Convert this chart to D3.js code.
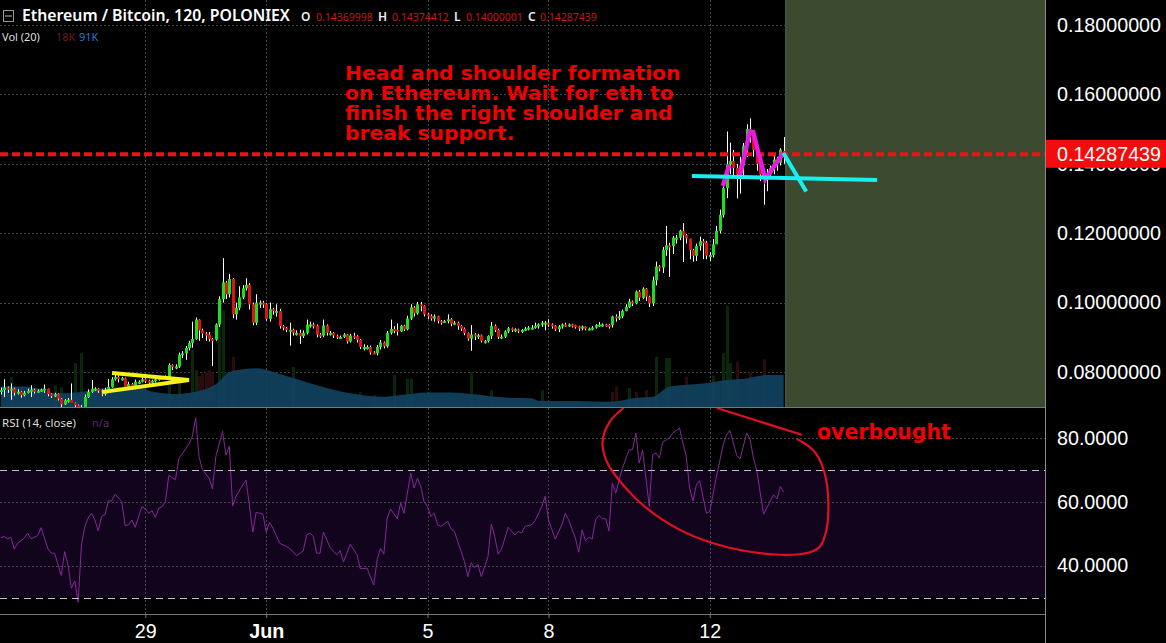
<!DOCTYPE html>
<html>
<head>
<meta charset="utf-8">
<title>Ethereum / Bitcoin, 120, POLONIEX</title>
<script src="https://d3js.org/d3.v7.min.js"></script>
<style>
  html, body { margin: 0; padding: 0; background: #000; overflow: hidden; }
  svg { display: block; }
</style>
</head>
<body>
<script>

// candles, every 2 hours, prices in units of 0.0001
var opens = [743,748,755,749,752,740,743,733,740,746,
  749,744,746,749,752,736,730,736,723,707,
  718,720,711,704,699,699,728,743,752,752,
  746,736,749,757,779,786,782,782,757,765,
  755,772,772,779,775,772,775,779,783,784,
  786,820,814,816,850,854,869,884,895,951,
  920,911,908,895,893,937,1010,1058,1024,1068,
  966,985,1015,1041,1051,995,942,1000,1000,995,
  953,981,976,976,932,927,922,922,913,913,
  903,913,937,937,934,908,905,934,913,913,
  905,901,901,908,888,905,903,893,872,872,
  872,856,854,872,885,874,913,924,922,917,
  933,923,954,986,969,995,990,966,962,954,
  960,947,944,947,952,939,942,933,925,912,
  896,908,904,906,889,889,904,933,921,901,
  902,917,926,921,923,917,921,925,928,928,
  933,937,942,942,937,933,923,931,937,936,
  937,935,931,925,931,925,925,928,935,937,
  937,936,935,960,957,960,976,988,1003,998,
  1032,1014,1040,1017,998,1064,1104,1101,1152,1165,
  1163,1187,1187,1207,1194,1185,1151,1135,1163,1177,
  1173,1135,1137,1168,1207,1253,1330,1398,1408,1388,
  1369,1395,1451,1500,1490,1440,1400,1369,1355,1369,
  1388,1412,1403,1437];

var closes = [748,755,749,752,740,743,733,740,746,749,
  744,746,749,752,736,730,736,723,707,718,
  720,711,704,699,699,728,743,752,752,746,
  736,749,757,779,786,782,782,757,765,755,
  772,772,779,775,772,775,779,783,784,786,
  820,814,816,850,854,869,884,895,951,920,
  911,908,895,893,937,1010,1058,1024,1068,966,
  985,1015,1041,1051,995,942,1000,1000,995,953,
  981,976,976,932,927,922,922,913,913,903,
  913,937,937,934,908,905,934,913,913,905,
  901,901,908,888,905,903,893,872,872,872,
  856,854,872,885,874,913,924,922,917,933,
  923,954,986,969,995,990,966,962,954,960,
  947,944,947,952,939,942,933,925,912,896,
  908,904,906,889,889,904,933,921,901,902,
  917,926,921,923,917,921,925,928,928,933,
  937,942,942,937,933,923,931,937,936,937,
  935,931,925,931,925,925,928,935,937,937,
  936,935,960,957,960,976,988,1003,998,1032,
  1014,1040,1017,998,1064,1104,1101,1152,1165,1163,
  1187,1187,1207,1194,1185,1151,1135,1163,1177,1173,
  1135,1137,1168,1207,1253,1330,1398,1408,1388,1369,
  1395,1451,1500,1490,1440,1400,1369,1355,1369,1388,
  1412,1403,1441,1429];

var highs = [755,779,758,767,755,750,745,745,752,762,
  752,750,752,764,752,738,740,738,725,722,
  725,767,712,706,705,735,750,777,756,754,
  750,755,780,785,800,790,786,784,772,768,
  778,776,785,782,778,778,782,786,788,790,
  825,822,822,856,860,875,890,945,957,952,
  925,915,915,898,940,1018,1128,1062,1083,1070,
  1000,1047,1050,1070,1056,1000,1024,1006,1005,998,
  1000,985,995,982,936,930,942,925,920,922,
  920,951,945,942,937,912,951,937,918,915,
  908,905,912,910,910,913,906,895,880,877,
  876,860,878,892,888,918,951,932,940,936,
  936,962,995,990,1002,1002,992,970,966,966,
  962,950,950,966,955,947,945,935,928,914,
  935,912,910,908,892,906,944,937,925,908,
  920,930,928,926,925,924,930,932,935,942,
  940,947,947,952,940,935,935,940,942,940,
  939,936,933,934,932,928,932,938,944,940,
  939,938,962,966,976,980,995,1011,1006,1035,
  1036,1044,1042,1020,1075,1118,1108,1160,1221,1172,
  1192,1195,1210,1229,1198,1160,1155,1170,1190,1183,
  1178,1145,1183,1221,1268,1335,1493,1461,1440,1400,
  1420,1460,1514,1531,1490,1445,1400,1386,1385,1395,
  1425,1420,1445,1477];

var lows = [735,728,740,720,732,735,726,730,738,728,
  738,740,743,740,730,725,728,718,696,705,
  712,718,698,692,690,695,725,740,745,740,
  730,732,745,755,775,770,775,750,752,748,
  750,765,770,768,765,768,770,775,778,780,
  782,806,808,812,840,835,862,870,893,890,
  898,890,888,817,890,930,1000,1010,1015,955,
  951,978,1010,1035,980,935,935,985,985,948,
  945,965,960,925,920,915,876,905,905,881,
  898,908,928,925,900,898,900,905,905,898,
  895,895,898,882,885,895,885,866,862,865,
  850,852,848,865,868,870,908,912,905,915,
  918,920,950,960,965,975,960,952,948,945,
  940,936,942,940,932,935,922,918,906,890,
  861,892,895,885,882,885,895,915,895,895,
  898,912,915,915,912,912,918,920,922,925,
  925,930,920,930,925,918,915,925,930,930,
  928,925,918,920,920,920,920,925,930,930,
  930,925,928,945,950,955,975,985,990,995,
  1005,1010,1005,987,990,1050,1090,1085,1135,1074,
  1140,1170,1180,1117,1170,1125,1118,1120,1150,1125,
  1125,1120,1130,1195,1200,1245,1301,1370,1360,1300,
  1314,1360,1420,1461,1420,1380,1350,1282,1321,1355,
  1370,1380,1395,1400];

// volume bars that can be told apart in the picture, in thousands
var volBars = [3,16,18,22,24,50,53,57,58,59,60,61,62,63,65,66,69,87,107,111,117,
  121,122,140,146,161,182,183,187,189,192,195,198,199,204,212,215,216,217,219,223,227];
var volValues = [84,62,56,125,153,62,68,162,105,88,95,100,105,98,247,275,142,114,43,34,91,
  80,80,99,48,48,43,58,54,44,48,143,139,139,86,89,153,287,125,129,100,136];
var volUp = [1,1,1,1,1,1,1,1,1,0,0,0,0,0,1,1,0,1,0,0,1,
  1,1,1,1,1,0,0,1,0,0,1,1,1,0,1,1,1,1,0,0,0];

// volume moving average, read at its turning points, in thousands
var volMaBars = [0,6,10,17,25,30,40,45,52,60,65,68,76,84,94,104,114,119,127,134,140,150,158,160,172,181,190,194,199,209,216,222,228,233];
var volMaValues = [58,58,55,39,44,53,58,44,37,48,72,100,110,91,62,39,29,34,41,41,37,27,25,18,17,15,27,29,58,67,77,81,91,91];

// RSI line vertices
var rsiBars = [0,1,2,3,4,5,7,8,9,11,12,13,14,15,16,18,19,20,21,22,23,24,25,26,27,28,29,30,31,32,33,34,36,37,38,39,40,
  42,43,44,45,46,47,48,49,50,52,53,54,56,57,58,59,60,62,63,64,66,67,68,69,70,72,73,75,76,78,79,80,81,83,85,86,88,
  90,91,92,93,94,95,96,98,100,101,102,104,106,107,109,111,112,113,114,115,116,118,119,120,122,123,124,
  125,126,127,128,129,130,131,133,134,135,137,138,139,140,141,142,143,145,146,147,148,149,151,153,154,155,156,158,159,
  161,162,163,165,167,168,169,171,172,173,174,175,176,177,178,179,180,181,182,183,185,187,188,189,190,191,193,
  194,195,196,197,199,200,202,203,204,205,206,207,208,210,211,213,215,216,217,219,220,222,223,224,225,227,230,231,232,233];
var rsiValues = [48.8,49.1,48.4,48.9,45.2,47.0,48.6,50.2,48.4,49.4,51.9,48.6,45.4,43.9,43.9,36.9,44.4,40.2,32.9,35.2,28.5,46.5,52.3,54.9,56.4,54.3,50.9,55.4,55.9,60.3,60.3,62.4,60.1,52.5,52.8,54.3,52.0,
  58.5,57.8,56.4,57.2,55.1,58.0,58.5,60.1,68.3,66.9,73.7,75.0,78.1,80.5,86.3,74.2,70.1,67.4,64.1,74.2,82.1,74.6,77.4,58.7,61.7,65.3,66.8,50.5,56.7,56.1,50.5,53.6,51.7,47.0,46.0,45.4,43.1,
  44.6,49.6,50.2,49.1,43.9,43.9,50.5,45.7,43.4,44.7,41.1,46.7,43.4,39.0,39.2,33.9,41.8,45.4,43.6,54.9,57.7,54.7,59.6,56.4,69.0,64.3,67.4,
  64.8,59.9,58.5,55.4,56.4,52.8,52.3,53.8,51.5,50.7,44.4,41.3,36.5,40.9,39.4,40.4,36.5,42.8,53.0,49.1,43.6,45.1,52.0,49.6,50.7,50.2,52.3,52.8,54.1,
  58.5,61.7,54.3,48.3,52.8,56.4,54.3,48.6,44.2,51.2,47.8,48.9,48.3,54.3,55.7,54.7,54.7,50.9,65.8,62.7,70.6,76.3,76.3,81.6,72.1,76.3,58.5,
  74.8,75.3,73.7,78.7,80.0,81.6,83.1,78.4,74.2,64.3,60.3,65.3,66.6,56.4,57.0,68.0,77.9,81.0,82.4,74.6,73.4,81.6,79.5,73.7,69.7,56.1,62.2,60.9,64.8,63.0];

// axes
var priceTicks = [0.18, 0.16, 0.14, 0.12, 0.10, 0.08];
var rsiTicks = [80, 60, 40];
var rsiLevels = [70, 30];
var dateBars = [43, 79, 127, 163, 211];
var dateLabels = ["29", "Jun", "5", "8", "12"];
var lastPrice = 0.14287439;

// hand drawn marks on the chart, bar number and price (or RSI value)
var yellowBars = [33.1, 56, 30.1];
var yellowPrices = [0.0797, 0.0777, 0.0742];
var magentaLeftBars = [214.9, 216.8];
var magentaLeftPrices = [0.1336, 0.1397];
var magentaBars = [220, 222.9, 223.9, 227.5, 232.9];
var magentaPrices = [0.1368, 0.1492, 0.1492, 0.1356, 0.1431];
var necklineBars = [205.7, 260.8];
var necklinePrices = [0.1365, 0.1353];
var breakBars = [232.9, 239.7];
var breakPrices = [0.1431, 0.1320];
var circleBars = [185.3,181.3,179.1,180.3,184.3,192.2,202.1,211.1,220,231.9,240.8,243.8,245.6,246.3,245.3,242.8,239.8,236.9];
var circleValues = [89.4,85.2,79,72.7,66.4,58,51.2,47.3,44.9,43.4,44.2,46,50.7,59.1,68.5,74.8,77.9,79.7];
var swooshBars = [213.1, 238.4];
var swooshValues = [89.4, 81];

var noteLines = ["Head and shoulder formation", "on Ethereum. Wait for eth to", "finish the right shoulder and", "break support."];

var plotRight = 1045, pricePaneBottom = 407, rsiPaneBottom = 614;
var futureBar = 233.6;

var svg = d3.select("body").append("svg").attr("width", 1166).attr("height", 643);

// same scales for both panes
var x = d3.scaleLinear().domain([0, 233]).range([0.8, 783.7]);
var yPrice = d3.scaleLinear().domain([0.18, 0.08]).range([25, 372]);
var yRsi = d3.scaleLinear().domain([80, 30]).range([438, 597.5]);
var yVol = d3.scaleLinear().domain([0, 100]).range([pricePaneBottom, pricePaneBottom - 35.2]);

svg.append("defs").append("clipPath").attr("id", "pricePane")
  .append("rect").attr("width", plotRight).attr("height", pricePaneBottom);
svg.select("defs").append("clipPath").attr("id", "rsiPane")
  .append("rect").attr("y", pricePaneBottom).attr("width", plotRight).attr("height", rsiPaneBottom - pricePaneBottom);

// green box over the empty right side of the price pane
svg.append("rect")
  .attr("x", x(futureBar)).attr("y", 0)
  .attr("width", plotRight - x(futureBar)).attr("height", pricePaneBottom)
  .attr("fill", "#3c4b30");
svg.append("line")
  .attr("x1", x(futureBar)).attr("x2", x(futureBar)).attr("y1", 0).attr("y2", pricePaneBottom)
  .attr("stroke", "#55694a").attr("stroke-width", 1);

// RSI 30-70 band
svg.append("rect")
  .attr("x", 0).attr("y", yRsi(70))
  .attr("width", plotRight).attr("height", yRsi(30) - yRsi(70))
  .attr("fill", "#12041d");

// grid
var gridColor = "#454545";
svg.selectAll(".hgrid").data(priceTicks).enter().append("line")
  .attr("x1", 0).attr("x2", plotRight)
  .attr("y1", function (d) { return Math.round(yPrice(d)) + 0.5; })
  .attr("y2", function (d) { return Math.round(yPrice(d)) + 0.5; })
  .attr("stroke", function (d) { return gridColor; })
  .attr("stroke-dasharray", "2,2");
svg.selectAll(".rgrid").data(rsiTicks).enter().append("line")
  .attr("x1", 0).attr("x2", plotRight)
  .attr("y1", function (d) { return Math.round(yRsi(d)) + 0.5; })
  .attr("y2", function (d) { return Math.round(yRsi(d)) + 0.5; })
  .attr("stroke", gridColor)
  .attr("stroke-dasharray", "2,2");
svg.selectAll(".vgrid").data(dateBars).enter().append("line")
  .attr("x1", function (d) { return Math.round(x(d)) + 0.5; })
  .attr("x2", function (d) { return Math.round(x(d)) + 0.5; })
  .attr("y1", 0).attr("y2", rsiPaneBottom)
  .attr("stroke", gridColor)
  .attr("stroke-dasharray", "2,2");

// volume bars and the moving average on top
var volG = svg.append("g").attr("clip-path", "url(#pricePane)");
volG.selectAll("rect").data(volBars).enter().append("rect")
  .attr("x", function (d) { return Math.round(x(d)) - 1; })
  .attr("width", 3)
  .attr("y", function (d, i) { return yVol(volValues[i]); })
  .attr("height", function (d, i) { return pricePaneBottom - yVol(volValues[i]); })
  .attr("fill", function (d, i) { return volUp[i] ? "#0a260b" : "#2c0b0c"; });

var volArea = d3.area()
  .x(function (d) { return x(d); })
  .y0(pricePaneBottom)
  .y1(function (d, i) { return yVol(volMaValues[i]); })
  .curve(d3.curveMonotoneX);
volG.append("path").datum(volMaBars)
  .attr("d", volArea)
  .attr("fill", "#10425f").attr("fill-opacity", 0.92);

// candles
var candles = svg.append("g").attr("clip-path", "url(#pricePane)");
var bars = d3.range(closes.length);
candles.selectAll(".wick").data(bars).enter().append("line")
  .attr("x1", function (i) { return Math.round(x(i)) + 0.5; })
  .attr("x2", function (i) { return Math.round(x(i)) + 0.5; })
  .attr("y1", function (i) { return yPrice(highs[i] / 10000); })
  .attr("y2", function (i) { return yPrice(lows[i] / 10000); })
  .attr("stroke", "#fff").attr("stroke-width", 1);
candles.selectAll(".body").data(bars).enter().append("rect")
  .attr("x", function (i) { return Math.round(x(i)) - 1; })
  .attr("width", 3)
  .attr("y", function (i) { return yPrice(Math.max(opens[i], closes[i]) / 10000); })
  .attr("height", function (i) {
    return Math.max(2, Math.abs(yPrice(opens[i] / 10000) - yPrice(closes[i] / 10000)));
  })
  .attr("fill", function (i) { return closes[i] >= opens[i] ? "#1fdc1f" : "#dc1414"; });

// RSI line
var rsiLine = d3.line()
  .x(function (d) { return x(d); })
  .y(function (d, i) { return yRsi(rsiValues[i]); });
svg.append("path").datum(rsiBars)
  .attr("d", rsiLine)
  .attr("fill", "none").attr("stroke", "#86289a").attr("stroke-width", 1);

// RSI 70 and 30 levels
svg.selectAll(".level").data(rsiLevels).enter().append("line")
  .attr("x1", 0).attr("x2", plotRight)
  .attr("y1", function (d) { return Math.round(yRsi(d)) + 0.5; })
  .attr("y2", function (d) { return Math.round(yRsi(d)) + 0.5; })
  .attr("stroke", "#c4bec8").attr("stroke-dasharray", "7,5");

// last price line
svg.append("line")
  .attr("x1", 0).attr("x2", plotRight)
  .attr("y1", yPrice(lastPrice) + 0.5).attr("y2", yPrice(lastPrice) + 0.5)
  .attr("stroke", "#ee1116").attr("stroke-width", 4).attr("stroke-dasharray", "8,4");

// hand drawn lines
function drawMark(bars, vals, yScale, color, width, curve, clip) {
  var line = d3.line()
    .x(function (d) { return x(d); })
    .y(function (d, i) { return yScale(vals[i]); });
  if (curve) line.curve(curve);
  var p = svg.append("path").datum(bars)
    .attr("d", line)
    .attr("fill", "none").attr("stroke", color).attr("stroke-width", width)
    .attr("stroke-linejoin", "miter");
  if (clip) p.attr("clip-path", clip);
}
drawMark(yellowBars, yellowPrices, yPrice, "#f4f21a", 4);
drawMark(magentaLeftBars, magentaLeftPrices, yPrice, "#ea18e0", 4.5);
drawMark(magentaBars, magentaPrices, yPrice, "#ea18e0", 4.5);
drawMark(necklineBars, necklinePrices, yPrice, "#16f0f0", 4);
drawMark(breakBars, breakPrices, yPrice, "#16f0f0", 4);
drawMark(circleBars, circleValues, yRsi, "#e01024", 2.2, d3.curveCatmullRom, "url(#rsiPane)");
drawMark(swooshBars, swooshValues, yRsi, "#e01024", 2.2, null, "url(#rsiPane)");

// red note on the chart
var note = svg.append("text")
  .attr("x", 345).attr("y", 80)
  .attr("font-family", "DejaVu Sans").attr("font-weight", "bold")
  .attr("font-size", 20.3).attr("fill", "#f00000");
note.selectAll("tspan").data(noteLines).enter().append("tspan")
  .attr("x", 345)
  .attr("dy", function (d, i) { return i ? 20 : 0; })
  .text(function (d) { return d; });
svg.append("text")
  .attr("x", 817).attr("y", 439)
  .attr("font-family", "DejaVu Sans").attr("font-weight", "bold")
  .attr("font-size", 20.5).attr("fill", "#f00000")
  .text("overbought");

// price and RSI axes
var priceAxis = d3.axisRight(yPrice).tickValues(priceTicks).tickFormat(d3.format(".8f")).tickSize(0).tickPadding(12);
var rsiAxis = d3.axisRight(yRsi).tickValues(rsiTicks).tickFormat(d3.format(".4f")).tickSize(0).tickPadding(12);
var dateAxis = d3.axisBottom(x).tickValues(dateBars)
  .tickFormat(function (d, i) { return dateLabels[i]; }).tickSize(4).tickPadding(6);

function styleAxis(g) {
  g.selectAll("text")
    .attr("font-family", "Liberation Sans, Arial, sans-serif")
    .attr("font-size", 19.7).attr("fill", "#fff");
  g.select(".domain").remove();
  g.selectAll("line").attr("stroke", "#777");
}
svg.append("g").attr("transform", "translate(" + plotRight + ",0)").call(priceAxis).call(styleAxis);
svg.append("g").attr("transform", "translate(" + plotRight + ",0)").call(rsiAxis).call(styleAxis);
var dateG = svg.append("g").attr("transform", "translate(0," + rsiPaneBottom + ")").call(dateAxis).call(styleAxis);
dateG.selectAll("text").filter(function (d, i) { return dateLabels[i] === "Jun"; }).attr("font-weight", "bold");

// axis frames
svg.append("line").attr("x1", plotRight + 0.5).attr("x2", plotRight + 0.5).attr("y1", 0).attr("y2", 643).attr("stroke", "#8a8a8a");
svg.append("line").attr("x1", 0).attr("x2", plotRight).attr("y1", pricePaneBottom + 0.5).attr("y2", pricePaneBottom + 0.5).attr("stroke", "#777");
svg.append("line").attr("x1", 0).attr("x2", plotRight).attr("y1", rsiPaneBottom + 0.5).attr("y2", rsiPaneBottom + 0.5).attr("stroke", "#777");

// last price tag
svg.append("rect")
  .attr("x", plotRight + 1).attr("y", yPrice(lastPrice) - 14)
  .attr("width", 120).attr("height", 28)
  .attr("fill", "#f20c0c");
svg.append("text")
  .attr("x", plotRight + 12).attr("y", yPrice(lastPrice) + 7)
  .attr("font-family", "Liberation Sans, Arial, sans-serif")
  .attr("font-size", 19.7).attr("fill", "#fff")
  .text(d3.format(".8f")(lastPrice));

// header
var headerFont = "Noto Sans, sans-serif";
svg.append("rect")
  .attr("x", 3.5).attr("y", 10.5).attr("width", 10).attr("height", 11)
  .attr("fill", "none").attr("stroke", "#999");
svg.append("line")
  .attr("x1", 5).attr("x2", 12).attr("y1", 16).attr("y2", 16).attr("stroke", "#bbb");
svg.append("text")
  .attr("x", 22).attr("y", 21)
  .attr("font-family", headerFont).attr("font-size", 15.8).attr("font-weight", 600).attr("fill", "#fff")
  .text("Ethereum / Bitcoin, 120, POLONIEX");

var ohlcLabels = ["O", "H", "L", "C"];
var ohlcValues = ["0.14369998", "0.14374412", "0.14000001", "0.14287439"];
var ohlcLabelX = [301, 378, 454, 528];
var ohlcValueX = [316, 392, 466, 540];
ohlcLabels.forEach(function (d, i) {
  svg.append("text").attr("x", ohlcLabelX[i]).attr("y", 21)
    .attr("font-family", headerFont).attr("font-size", 12).attr("font-weight", 600).attr("fill", "#eee").text(d);
  svg.append("text").attr("x", ohlcValueX[i]).attr("y", 21)
    .attr("font-family", headerFont).attr("font-size", 10.5).attr("fill", "#c81414").text(ohlcValues[i]);
});

svg.append("text").attr("x", 2).attr("y", 41)
  .attr("font-family", headerFont).attr("font-size", 11).attr("fill", "#ddd").text("Vol (20)");
svg.append("text").attr("x", 56).attr("y", 41)
  .attr("font-family", headerFont).attr("font-size", 11).attr("fill", "#6a1c1c").text("18K");
svg.append("text").attr("x", 79).attr("y", 41)
  .attr("font-family", headerFont).attr("font-size", 11).attr("fill", "#1f7fd0").text("91K");

svg.append("text").attr("x", 2).attr("y", 427)
  .attr("font-family", headerFont).attr("font-size", 11.5).attr("fill", "#ddd").text("RSI (14, close)");
svg.append("text").attr("x", 92).attr("y", 427)
  .attr("font-family", headerFont).attr("font-size", 11).attr("fill", "#5e2a6e").text("n/a");

</script>
</body>
</html>
